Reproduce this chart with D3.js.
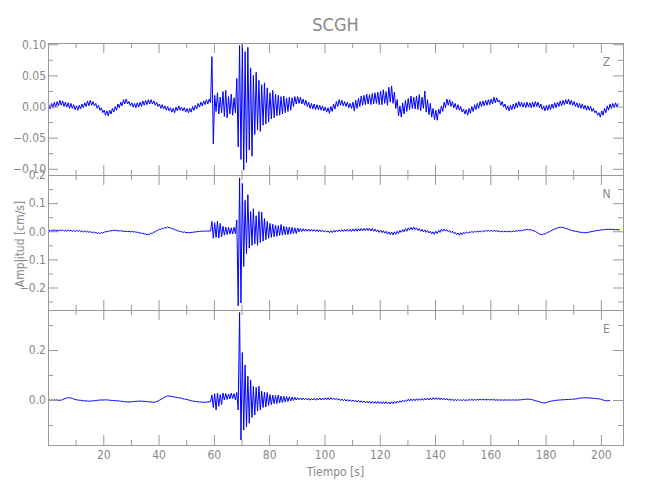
<!DOCTYPE html>
<html>
<head>
<meta charset="utf-8">
<script src="https://cdn.jsdelivr.net/npm/d3@7"></script>
<style>
  body { margin: 0; background: #fff; }
  text { font-family: "Liberation Sans Narrow", "DejaVu Sans Condensed", sans-serif; fill: #888; }
</style>
</head>
<body>
<script>
const w = 650;
const h = 500;
const left = 48;
const right = 623;
const panelEdges = [43, 175, 310, 445];

// station / components
const station = "SCGH";
const comps = ["Z", "N", "E"];

// traces: one sample every 0.5 s starting at 0.3 s, values in 0.001 cm/s
const t0 = 0.3;
const dt = 0.5;

const zVals = [
  3,-4,5,-2,7,-1,8,1,10,2,9,0,7,-1,6,-3,5,-3,3,-5,
  1,-6,2,-4,4,-2,6,0,9,1,10,2,8,1,5,-3,2,-6,-2,-10,
  -6,-14,-7,-15,-6,-12,-3,-9,0,-6,4,-2,7,1,11,4,12,4,8,1,
  6,-1,5,-2,6,-1,7,0,9,2,10,3,11,4,11,4,9,2,7,0,
  4,-3,3,-4,1,-6,0,-7,-2,-9,-3,-10,-1,-7,1,-6,-1,-7,-2,-9,
  -3,-10,-3,-9,0,-6,2,-4,5,-1,7,1,9,3,11,4,12,6,80,-60,
  18,-8,22,-12,15,-10,24,-16,26,-18,16,-12,20,-14,14,-10,45,-65,98,-85,
  100,-102,88,-90,95,-70,62,-80,50,-45,55,-38,42,-40,35,-30,38,-28,30,-25,
  22,-20,26,-18,20,-15,18,-14,16,-12,17,-10,14,-8,15,-6,14,0,16,4,
  16,5,15,4,12,2,10,0,7,-3,5,-4,4,-5,3,-5,2,-6,1,-7,
  -1,-9,-2,-11,0,-8,4,-4,8,0,11,2,10,1,8,0,7,-2,5,-3,
  7,-7,10,-3,13,0,17,2,18,3,20,4,19,3,21,4,22,5,23,3,
  25,3,27,5,24,2,31,7,33,5,23,-3,11,-15,1,-17,6,-12,10,-8,
  13,-5,17,-3,15,-4,17,-5,19,-7,15,-3,25,-9,11,-13,5,-17,-3,-21,
  -6,-22,-4,-12,1,-8,7,-2,12,2,11,0,8,-2,5,-5,3,-6,0,-9,
  -4,-12,-5,-14,-3,-11,0,-8,3,-5,5,-3,8,0,9,1,10,2,11,3,
  12,4,15,6,14,7,10,2,8,-1,4,-5,1,-7,2,-5,4,-4,6,-2,
  8,0,7,-1,6,-2,7,-1,6,-2,7,-1,8,0,7,-2,4,-5,1,-7,
  2,-6,3,-5,4,-3,6,-2,7,0,9,1,10,3,11,4,12,3,10,2,
  8,0,6,-2,5,-3,4,-4,2,-6,1,-6,0,-8,-3,-10,-7,-14,-10,-17,
  -7,-14,-3,-10,1,-6,4,-3,5,-2,6,-1,5
];

const nVals = [
  6,-2,5,-1,6,0,5,0,6,1,5,0,4,0,5,0,4,-1,3,-1,
  3,-1,3,-2,2,-2,1,-3,0,-4,-1,-5,-2,-6,-4,-8,-5,-9,-4,-7,
  -2,-3,0,-1,2,1,3,2,3,2,2,1,2,0,1,-1,0,-1,0,-2,
  0,-3,-1,-4,-3,-6,-5,-8,-7,-10,-9,-13,-10,-11,-7,-7,-3,-2,2,3,
  8,6,11,9,14,11,15,12,13,9,9,5,5,1,2,-2,-1,-4,-2,-5,
  -4,-5,-5,-4,-4,-3,-2,-2,-1,-1,0,0,0,1,1,0,1,1,35,-25,
  30,-22,36,-24,28,-20,18,-14,15,-12,14,-10,12,-10,14,-8,40,-265,190,-255,
  170,-125,110,-80,130,-60,70,-50,80,-45,55,-50,70,-40,68,-35,45,-30,35,-25,
  28,-22,25,-20,22,-18,20,-15,24,-14,18,-12,16,-12,15,-10,14,-8,12,-8,
  12,-2,10,-1,9,0,8,0,8,0,7,0,6,-1,5,-2,5,-2,4,-2,
  2,-3,1,-5,2,-5,3,-3,4,-2,5,-1,6,-1,6,0,7,0,7,-1,
  8,0,9,0,9,1,10,1,10,2,11,2,11,1,10,0,8,-2,5,-4,
  4,-5,2,-7,0,-10,-2,-12,-3,-13,-2,-11,0,-8,3,-4,6,-2,9,0,
  12,4,14,5,15,6,12,3,9,0,7,-2,5,-4,3,-6,0,-9,-2,-11,
  0,-8,3,-4,7,0,8,1,5,-2,3,-5,0,-8,-4,-12,-6,-14,-5,-12,
  -4,-8,-3,-7,-2,-5,-1,-4,0,-3,0,-2,1,-2,2,-1,3,0,3,0,
  3,0,3,0,2,-1,1,-2,1,-2,0,-2,0,-2,0,-2,1,-1,2,0,
  3,1,4,2,6,4,7,5,6,4,3,1,-1,-4,-7,-10,-11,-13,-9,-10,
  -6,-4,-2,1,3,6,8,10,12,13,14,14,13,12,10,9,7,5,3,2,
  1,0,-1,-2,-3,-4,-4,-5,-5,-5,-4,-3,-2,-1,0,1,2,3,3,4,
  5,5,6,6,7,7,7,7,6,6,6,6,5,5
];

const eVals = [
  2,-2,1,-2,1,-1,1,-2,0,-1,2,4,6,8,9,9,8,6,4,2,
  1,0,-1,-1,-2,-3,-3,-4,-4,-5,-4,-4,-3,-3,-2,-1,-1,0,0,0,
  0,1,0,0,-1,-1,-2,-2,-3,-3,-3,-4,-5,-5,-6,-7,-7,-8,-8,-8,
  -7,-6,-6,-5,-5,-5,-4,-5,-5,-5,-6,-6,-7,-8,-8,-9,-9,-8,-6,-4,
  -1,2,5,9,12,15,16,16,15,14,13,12,11,10,9,8,7,5,4,3,
  2,0,-1,-3,-4,-5,-6,-6,-7,-8,-8,-9,-9,-9,-8,-8,-7,-7,20,-30,
  25,-40,28,-25,22,-18,28,0,26,2,24,4,28,6,25,0,30,-40,350,-160,
  190,-120,140,-107,95,-93,80,-70,55,-60,50,-45,55,-40,35,-30,32,-28,30,-22,
  22,-18,20,-15,18,-14,20,-12,16,-10,15,-8,14,-6,13,-4,12,-2,11,0,
  9,1,8,0,8,1,7,0,7,-1,6,0,7,-1,7,0,8,0,8,1,
  9,1,9,1,9,2,8,1,7,0,5,-2,4,-3,3,-4,2,-5,1,-6,
  0,-7,-1,-8,-2,-9,-3,-10,-4,-11,-5,-12,-5,-13,-6,-14,-6,-14,-6,-14,
  -7,-15,-7,-15,-7,-15,-8,-16,-7,-15,-6,-13,-5,-11,-3,-9,-1,-7,0,-5,
  3,-4,4,-3,4,-3,5,-2,5,-1,6,-1,7,0,7,0,8,1,9,2,
  9,2,9,1,8,1,7,0,6,-1,5,-2,4,-3,3,-3,3,-3,2,-3,
  2,-2,1,-2,2,-1,2,-1,2,-1,2,0,3,0,3,0,3,0,2,0,
  2,0,2,-1,1,-1,1,-1,1,-1,1,-1,1,-1,1,-1,1,-1,1,-1,
  1,0,2,1,3,2,4,3,3,2,1,-1,-3,-4,-6,-8,-9,-11,-11,-12,
  -10,-8,-6,-5,-4,-3,-2,-1,-1,0,0,1,1,1,2,2,2,3,3,3,
  4,4,5,6,7,8,8,9,9,9,9,8,8,7,7,6,6,5,5,4,
  2,0,-2,-3,-3,-2,-2
];

// axis ranges and ticks
const xDomain = [0, 208];
const xMajor = [20, 40, 60, 80, 100, 120, 140, 160, 180, 200];
const xMinor = [10, 30, 50, 70, 90, 110, 130, 150, 170, 190];

const yDomains = [[-0.11, 0.102], [-0.28, 0.2], [-0.18, 0.36]];
const yMajor = [
  [-0.10, -0.05, 0, 0.05, 0.10],
  [-0.2, -0.1, 0, 0.1, 0.2],
  [0, 0.2]
];
const yMinor = [
  [-0.075, -0.025, 0.025, 0.075],
  [-0.25, -0.15, -0.05, 0.05, 0.15],
  [-0.1, 0.1, 0.3]
];
const yFormats = [".2f", ".1f", ".1f"];

const traces = [zVals, nVals, eVals];

const svg = d3.select("body").append("svg").attr("width", w).attr("height", h);

const xScale = d3.scaleLinear().domain(xDomain).range([left, right]);

const axisColor = "#999";

function styleAxis(g) {
  g.attr("color", axisColor).attr("font-size", 12);
  g.select(".domain").attr("stroke-width", 1);
  g.selectAll(".tick line").attr("stroke-width", 1);
}

comps.forEach((c, i) => {
  const top = panelEdges[i];
  const bottom = panelEdges[i + 1];
  const yScale = d3.scaleLinear().domain(yDomains[i]).range([bottom, top]);

  // trace
  const line = d3
    .line()
    .x((d, k) => xScale(t0 + k * dt))
    .y((d) => yScale(d / 1000));

  svg
    .append("path")
    .datum(traces[i])
    .attr("fill", "none")
    .attr("stroke", "#0000ff")
    .attr("stroke-width", 1)
    .attr("stroke-linejoin", "round")
    .attr("d", line);

  // left axis with labels
  svg.append("g")
    .attr("transform", `translate(${left},0)`)
    .call(d3.axisLeft(yScale).tickValues(yMajor[i]).tickSizeInner(-10).tickSizeOuter(0)
      .tickPadding(2).tickFormat(d3.format(yFormats[i])))
    .call(styleAxis);
  svg.append("g")
    .attr("transform", `translate(${left},0)`)
    .call(d3.axisLeft(yScale).tickValues(yMinor[i]).tickSizeInner(-5).tickSizeOuter(0).tickFormat(""))
    .call(styleAxis);

  // right axis
  svg.append("g")
    .attr("transform", `translate(${right},0)`)
    .call(d3.axisRight(yScale).tickValues(yMajor[i]).tickSizeInner(-10).tickSizeOuter(0).tickFormat(""))
    .call(styleAxis);
  svg.append("g")
    .attr("transform", `translate(${right},0)`)
    .call(d3.axisRight(yScale).tickValues(yMinor[i]).tickSizeInner(-5).tickSizeOuter(0).tickFormat(""))
    .call(styleAxis);

  // top axis
  svg.append("g")
    .attr("transform", `translate(0,${top})`)
    .call(d3.axisTop(xScale).tickValues(xMajor).tickSizeInner(-10).tickSizeOuter(0).tickFormat(""))
    .call(styleAxis);
  svg.append("g")
    .attr("transform", `translate(0,${top})`)
    .call(d3.axisTop(xScale).tickValues(xMinor).tickSizeInner(-5).tickSizeOuter(0).tickFormat(""))
    .call(styleAxis);

  // bottom axis, labels only on the last panel
  const last = i === comps.length - 1;
  svg.append("g")
    .attr("transform", `translate(0,${bottom})`)
    .call(d3.axisBottom(xScale).tickValues(xMajor).tickSizeInner(-10).tickSizeOuter(0)
      .tickPadding(5).tickFormat(last ? d3.format("d") : ""))
    .call(styleAxis);
  svg.append("g")
    .attr("transform", `translate(0,${bottom})`)
    .call(d3.axisBottom(xScale).tickValues(xMinor).tickSizeInner(-5).tickSizeOuter(0).tickFormat(""))
    .call(styleAxis);

  // component letter
  svg.append("text")
    .attr("x", 606.5)
    .attr("y", top + 23)
    .attr("text-anchor", "middle")
    .attr("font-size", 12)
    .text(c);
});

// titles
svg.append("text")
  .attr("x", (left + right) / 2)
  .attr("y", 31)
  .attr("text-anchor", "middle")
  .attr("font-size", 18)
  .text(station);

svg.append("text")
  .attr("x", (left + right) / 2)
  .attr("y", 476)
  .attr("text-anchor", "middle")
  .attr("font-size", 12)
  .text("Tiempo [s]");

svg.append("text")
  .attr("transform", `translate(24,${(panelEdges[0] + panelEdges[3]) / 2}) rotate(-90)`)
  .attr("text-anchor", "middle")
  .attr("font-size", 12)
  .text("Amplitud [cm/s]");
</script>
</body>
</html>
